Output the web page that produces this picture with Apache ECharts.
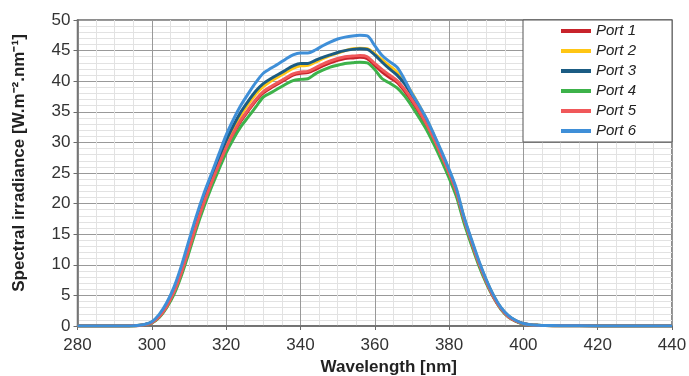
<!DOCTYPE html>
<html><head><meta charset="utf-8">
<script src="https://cdn.jsdelivr.net/npm/echarts@6/dist/echarts.min.js"></script>
<style>html,body{margin:0;padding:0;background:#fff}#c{width:689px;height:376px}</style>
</head><body><div id="c"></div>
<script>
const wavelengths = [280,290,294,296,298,300,302,304,306,308,310,312,314,316,318,320,322,324,326,328,330,332,334,336,338,340,342,344,346,348,350,352,354,356,358,360,362,364,366,368,370,372,374,376,378,380,382,384,386,388,390,392,394,396,398,400,402,404,406,410,420,440];
const port1 = [0,0,0.02,0.06,0.2,0.55,1.5,3.2,5.5,8.7,12.5,16.4,20.0,23.2,26.2,29.0,31.4,33.5,35.2,36.8,38.1,38.9,39.6,40.3,41.0,41.3,41.4,41.9,42.5,43.0,43.4,43.7,43.8,43.9,43.7,42.6,41.5,40.6,39.8,38.4,36.7,34.8,32.7,30.3,27.6,24.8,21.6,17.3,13.6,10.2,7.2,4.7,2.8,1.5,0.8,0.36,0.17,0.1,0.07,0.05,0.02,0];
const port2 = [0,0,0.02,0.07,0.22,0.6,1.6,3.4,5.8,9.1,13.0,17.0,20.6,23.8,26.9,29.8,32.3,34.5,36.3,37.9,39.1,40.0,40.7,41.4,42.1,42.5,42.6,43.1,43.7,44.2,44.6,45.0,45.3,45.4,45.3,44.5,43.5,42.5,41.5,40.0,38.1,36.0,33.7,31.1,28.3,25.4,22.2,17.8,14.0,10.5,7.5,4.9,2.9,1.6,0.85,0.38,0.18,0.11,0.07,0.05,0.02,0];
const port3 = [0,0,0.02,0.07,0.22,0.6,1.7,3.5,6.0,9.4,13.4,17.4,21.0,24.2,27.3,30.3,32.8,35.0,36.8,38.4,39.6,40.4,41.1,41.8,42.5,42.9,42.9,43.4,43.9,44.3,44.7,45.0,45.2,45.3,45.2,44.3,43.1,42.0,41.0,39.6,37.7,35.7,33.5,30.9,28.1,25.2,22.0,17.6,13.9,10.4,7.4,4.8,2.9,1.6,0.85,0.38,0.18,0.11,0.07,0.05,0.02,0];
const port4 = [0,0,0.02,0.06,0.18,0.5,1.4,3.0,5.2,8.3,12.0,15.9,19.4,22.6,25.5,28.3,30.6,32.6,34.2,35.8,37.4,38.1,38.8,39.5,40.1,40.3,40.4,41.2,41.8,42.3,42.6,42.9,43.0,43.1,43.0,41.9,40.4,39.7,38.9,37.6,35.9,34.0,32.0,29.6,27.0,24.2,21.1,16.9,13.3,9.9,7.0,4.6,2.7,1.45,0.75,0.34,0.16,0.1,0.07,0.05,0.02,0];
const port5 = [0,0,0.02,0.06,0.2,0.55,1.5,3.2,5.6,8.8,12.6,16.5,20.1,23.3,26.3,29.1,31.6,33.7,35.4,37.0,38.3,39.1,39.8,40.5,41.2,41.5,41.6,42.2,42.8,43.3,43.7,44.0,44.1,44.2,44.0,42.9,41.9,41.0,40.1,38.7,37.0,35.1,32.9,30.5,27.8,25.0,21.8,17.5,13.8,10.3,7.3,4.7,2.8,1.5,0.8,0.36,0.17,0.1,0.07,0.05,0.02,0];
const port6 = [0,0,0.02,0.08,0.25,0.7,1.9,3.8,6.4,9.9,14.0,18.0,21.6,24.8,28.0,31.2,33.8,36.1,38.0,39.8,41.3,42.1,42.8,43.6,44.3,44.6,44.6,45.1,45.8,46.4,46.9,47.2,47.4,47.5,47.4,45.8,44.2,43.2,42.3,40.3,38.0,36.0,33.8,31.2,28.5,25.6,22.4,17.9,14.2,10.7,7.6,5.0,3.0,1.7,0.9,0.4,0.2,0.12,0.08,0.05,0.02,0];
const seriesNames = ['Port 1','Port 2','Port 3','Port 4','Port 5','Port 6'];
const seriesValues = [port1, port2, port3, port4, port5, port6];
const seriesColors = ['#C8232B','#FFC614','#1B5C83','#3DB24A','#F0585A','#3F8FD8'];

const FONT = 'Liberation Sans, Arial, sans-serif';
const chart = echarts.init(document.getElementById('c'), null, {renderer:'canvas'});
chart.setOption({
  animation: false,
  backgroundColor: '#fff',
  grid: {left: 77.5, right: 17, top: 20, bottom: 50, containLabel: false, outerBoundsMode: 'none',
         show: true, borderColor: '#6a6a6a', borderWidth: 1.5, backgroundColor: 'transparent'},
  legend: {
    orient: 'vertical', left: 523, top: 20,
    padding: [3, 36, 3, 38],
    backgroundColor: '#fff', borderColor: '#555', borderWidth: 1,
    itemWidth: 30, itemHeight: 4, itemGap: 4, icon: 'rect',
    textStyle: {fontFamily: FONT, fontSize: 15, fontStyle: 'italic', color: '#222', lineHeight: 16},
    data: seriesNames
  },
  xAxis: {
    type: 'value', min: 280, max: 440, interval: 20,
    name: 'Wavelength [nm]', nameLocation: 'middle', nameGap: 32,
    nameTextStyle: {fontFamily: FONT, fontSize: 17, fontWeight: 'bold', color: '#222', padding: [0,0,0,28]},
    axisLine: {show: true, lineStyle: {color: '#6a6a6a', width: 1.5}},
    axisTick: {show: true, length: 4, lineStyle: {color: '#6a6a6a'}},
    axisLabel: {fontFamily: FONT, fontSize: 17, color: '#333', margin: 11},
    splitLine: {show: true, lineStyle: {color: '#999', width: 1}},
    minorTick: {show: false, splitNumber: 4},
    minorSplitLine: {show: true, lineStyle: {color: '#e2e2e2', width: 1}}
  },
  yAxis: {
    type: 'value', min: 0, max: 50, interval: 5,
    name: 'Spectral irradiance [W.m\u207B\u00B2.nm\u207B\u00B9]', nameLocation: 'middle', nameGap: 50,
    nameTextStyle: {fontFamily: FONT, fontSize: 17, fontWeight: 'bold', color: '#222', padding: [0,0,0,20]},
    axisLine: {show: true, lineStyle: {color: '#6a6a6a', width: 1.5}},
    axisTick: {show: true, length: 4, lineStyle: {color: '#6a6a6a'}},
    axisLabel: {fontFamily: FONT, fontSize: 17, color: '#333', margin: 7},
    splitLine: {show: true, lineStyle: {color: '#999', width: 1}},
    minorTick: {show: false, splitNumber: 5},
    minorSplitLine: {show: true, lineStyle: {color: '#e2e2e2', width: 1}}
  },
  series: seriesNames.map((n, i) => ({
    name: n, type: 'line', showSymbol: false, smooth: 0.3,
    color: seriesColors[i],
    lineStyle: {width: 3, color: seriesColors[i]},
    data: wavelengths.map((w, j) => [w, seriesValues[i][j]])
  }))
});
</script></body></html>
